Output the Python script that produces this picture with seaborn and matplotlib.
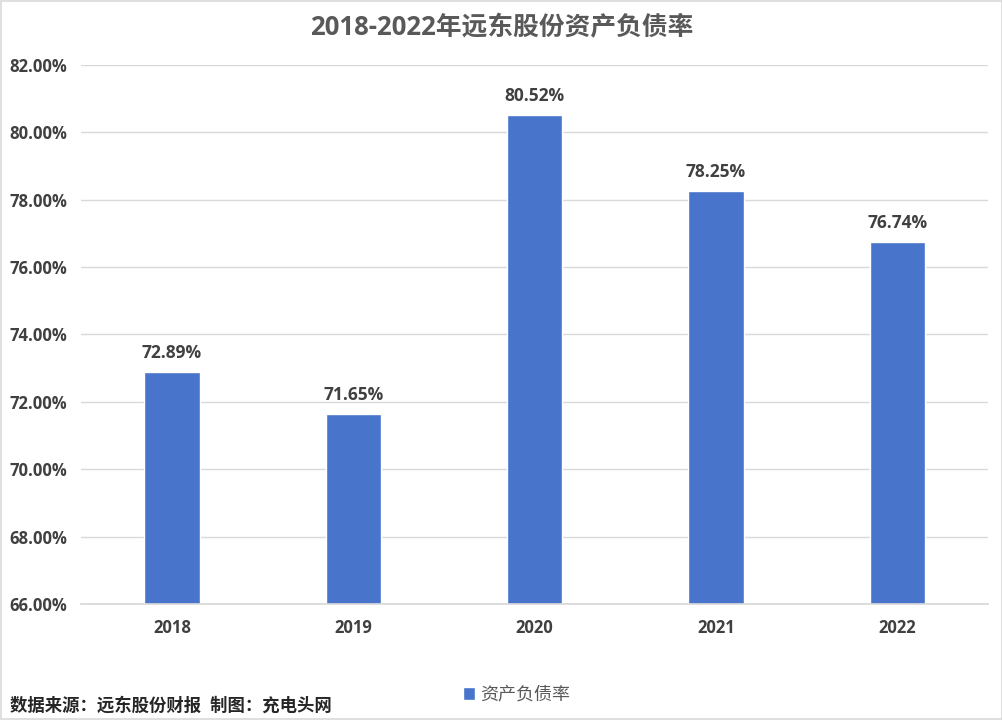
import seaborn as sns
import pandas as pd
import matplotlib.pyplot as plt
from matplotlib.ticker import FuncFormatter
from matplotlib.patches import Patch

years = ["2018", "2019", "2020", "2021", "2022"]
ratios = [72.89, 71.65, 80.52, 78.25, 76.74]
yticks = [66, 68, 70, 72, 74, 76, 78, 80, 82]
title = "2018-2022年远东股份资产负债率"
series_name = "资产负债率"
source_note = "数据来源：远东股份财报  制图：充电头网"

sns.set_theme(style="whitegrid")
plt.rcParams['font.family'] = ['Open Sans', 'Noto Sans CJK SC', 'DejaVu Sans']

df = pd.DataFrame({"year": years, "ratio": ratios})

fig = plt.figure(figsize=(10.03, 7.2), dpi=100)
ax = fig.add_axes([0.081, 0.161, 0.904, 0.749])

sns.barplot(data=df, x="year", y="ratio", color="#4874CB", width=0.305,
            saturation=1, ax=ax)

ax.set_ylim(66, 82)
ax.set_yticks(yticks)
ax.yaxis.set_major_formatter(FuncFormatter(lambda v, p: f"{v:.2f}%"))
ax.set_xlabel("")
ax.set_ylabel("")
ax.grid(axis="y", color="#D9D9D9", linewidth=1)
ax.grid(axis="x", visible=False)
ax.set_axisbelow(True)
for s in ["left", "right", "top"]:
    ax.spines[s].set_visible(False)
ax.spines["bottom"].set_color("#D9D9D9")
ax.tick_params(axis="both", length=0, labelsize=12, labelcolor="#404040")
ax.tick_params(axis="x", pad=11)
ax.tick_params(axis="y", pad=10)
for lab in ax.get_xticklabels() + ax.get_yticklabels():
    lab.set_fontweight("bold")

for i, v in enumerate(ratios):
    ax.text(i, v + 0.3, f"{v:.2f}%", ha="center", va="bottom",
            fontsize=12.5, fontweight="bold", color="#404040")

fig.text(0.5, 0.962, title, ha="center", va="center", fontsize=18.5,
         fontweight="bold", color="#595959")

handles = [Patch(facecolor="#4874CB", label=series_name)]
fig.legend(handles=handles, loc="center", bbox_to_anchor=(0.515, 0.035),
           frameon=False, fontsize=13, handlelength=0.7, handleheight=0.7,
           handletextpad=0.3, labelcolor="#595959")

fig.text(0.01, 0.02, source_note, ha="left", va="center", fontsize=12.5,
         fontweight="bold", color="#262626")

fig.patches.append(plt.Rectangle((0.001, 0.001), 0.998, 0.998, transform=fig.transFigure,
                                 fill=False, edgecolor="#D9D9D9", linewidth=1.2))

fig.savefig("out.png", dpi=100)
